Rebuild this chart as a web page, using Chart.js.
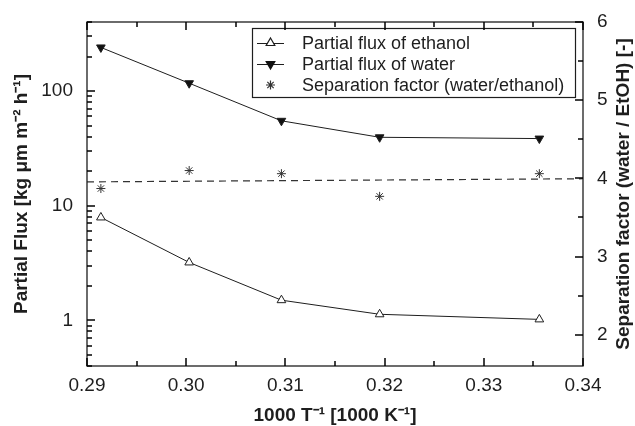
<!DOCTYPE html>
<html>
<head>
<meta charset="utf-8">
<script src="https://cdn.jsdelivr.net/npm/chart.js@4.4.1/dist/chart.umd.min.js"></script>
<style>
  html, body { margin: 0; padding: 0; background: #ffffff; }
  #flux-chart { display: block; }
</style>
</head>
<body>
<canvas id="flux-chart" width="635" height="426"></canvas>
<script>
'use strict';

// Section 1: data
const inverseTemp = [0.2914, 0.3003, 0.3096, 0.3195, 0.3356];
const ethanolFlux = [7.9, 3.2, 1.5, 1.13, 1.02];
const waterFlux = [240, 117, 55, 39.5, 38.5];
const separationFactor = [3.87, 4.10, 4.06, 3.77, 4.06];
const fitInverseTemp = [0.29, 0.34];
const fitSeparation = [3.955, 3.995];

const xTickValues = [0.29, 0.295, 0.30, 0.305, 0.31, 0.315, 0.32, 0.325, 0.33, 0.335, 0.34];
const xTickLabels = ['0.29', '', '0.30', '', '0.31', '', '0.32', '', '0.33', '', '0.34'];
const fluxTickValues = [0.4, 0.5, 0.6, 0.7, 0.8, 0.9, 1, 2, 3, 4, 5, 6, 7, 8, 9,
    10, 20, 30, 40, 50, 60, 70, 80, 90, 100, 200, 300, 400];
const fluxTickLabels = fluxTickValues.map(v => (v === 1 || v === 10 || v === 100) ? String(v) : '');
const sepTickValues = [2, 2.5, 3, 3.5, 4, 4.5, 5, 5.5, 6];
const sepTickLabels = ['2', '', '3', '', '4', '', '5', '', '6'];

const legendLabels = [
    'Partial flux of ethanol',
    'Partial flux of water',
    'Separation factor (water/ethanol)',
];
const xTitle = '1000 T\u207B\u00B9 [1000 K\u207B\u00B9]';
const fluxTitle = 'Partial Flux [kg \u03BCm m\u207B\u00B2 h\u207B\u00B9]';
const sepTitle = 'Separation factor (water / EtOH) [-]';

const ink = '#1e1e1e';
const fontFamily = '"Liberation Sans", Arial, Helvetica, sans-serif';

function toPoints(xs, ys) {
    return xs.map((x, i) => ({ x: x, y: ys[i] }));
}

// Section 2: frame, inner ticks, right title and legend
function drawInnerTicks(ctx, scale, values, labels, side, area) {
    for (let i = 0; i < values.length; i++) {
        let len = labels[i] !== '' ? 8 : 5;
        let p = Math.round(scale.getPixelForValue(values[i]));
        ctx.beginPath();
        if (side === 'bottom') { ctx.moveTo(p, area.bottom); ctx.lineTo(p, area.bottom - len); }
        if (side === 'top') { ctx.moveTo(p, area.top); ctx.lineTo(p, area.top + len); }
        if (side === 'left') { ctx.moveTo(area.left, p); ctx.lineTo(area.left + len, p); }
        if (side === 'right') { ctx.moveTo(area.right, p); ctx.lineTo(area.right - len, p); }
        ctx.stroke();
    }
}

const tickPlugin = {
    id: 'innerTicks',
    afterDraw(chart) {
        const ctx = chart.ctx;
        const area = chart.chartArea;
        ctx.save();
        ctx.setLineDash([]);
        ctx.lineDashOffset = 0;
        ctx.globalAlpha = 1;
        ctx.globalCompositeOperation = 'source-over';
        ctx.strokeStyle = '#000000';
        ctx.lineWidth = 1.5;
        drawInnerTicks(ctx, chart.scales.x, xTickValues, xTickLabels, 'bottom', area);
        drawInnerTicks(ctx, chart.scales.x, xTickValues, xTickLabels, 'top', area);
        drawInnerTicks(ctx, chart.scales.y, fluxTickValues, fluxTickLabels, 'left', area);
        drawInnerTicks(ctx, chart.scales.y2, sepTickValues, sepTickLabels, 'right', area);
        ctx.restore();
    }
};

const figurePlugin = {
    id: 'figureDecor',
    afterDraw(chart) {
        const ctx = chart.ctx;
        const area = chart.chartArea;

        ctx.save();
        ctx.setLineDash([]);
        ctx.strokeStyle = ink;
        ctx.lineWidth = 1.3;
        ctx.strokeRect(area.left, area.top, area.right - area.left, area.bottom - area.top);

        // right axis title reads bottom to top like the left one
        ctx.fillStyle = ink;
        ctx.font = 'bold 19px ' + fontFamily;
        ctx.textAlign = 'center';
        ctx.textBaseline = 'middle';
        ctx.translate(624, (area.top + area.bottom) / 2);
        ctx.rotate(-Math.PI / 2);
        ctx.fillText(sepTitle, 0, 0);
        ctx.restore();

        // legend box inside the plot
        ctx.save();
        ctx.setLineDash([]);
        ctx.strokeStyle = ink;
        ctx.lineWidth = 1.2;
        ctx.strokeRect(252.5, 28.5, 323, 69);
        ctx.font = '18px ' + fontFamily;
        ctx.textAlign = 'left';
        ctx.textBaseline = 'middle';
        const rows = [43, 64, 85];
        const styles = [
            { pointStyle: 'triangle', radius: 5, rotation: 0, borderWidth: 1, backgroundColor: '#ffffff', borderColor: ink, line: true },
            { pointStyle: 'triangle', radius: 5, rotation: 180, borderWidth: 1, backgroundColor: '#111111', borderColor: '#111111', line: true },
            { pointStyle: 'star', radius: 4.5, rotation: 0, borderWidth: 1, backgroundColor: 'rgba(0,0,0,0)', borderColor: '#333333', line: false },
        ];
        for (let i = 0; i < legendLabels.length; i++) {
            let y = rows[i];
            if (styles[i].line) {
                ctx.fillStyle = ink;
                ctx.fillRect(257, y, 27, 1);
            }
            ctx.fillStyle = styles[i].backgroundColor;
            ctx.strokeStyle = styles[i].borderColor;
            Chart.helpers.drawPoint(ctx, styles[i], 270.5, y);
            ctx.fillStyle = ink;
            ctx.fillText(legendLabels[i], 302, y + 1);
        }
        ctx.restore();
    }
};

// Section 3: the chart
const fluxCtx = document.querySelector('#flux-chart');

const fluxData = {
    datasets: [
        {
            label: legendLabels[0],
            data: toPoints(inverseTemp, ethanolFlux),
            yAxisID: 'y',
            borderColor: ink,
            borderWidth: 1,
            backgroundColor: '#ffffff',
            pointStyle: 'triangle',
            pointRadius: 5,
            pointBorderWidth: 1,
            pointBackgroundColor: '#ffffff',
        },
        {
            label: legendLabels[1],
            data: toPoints(inverseTemp, waterFlux),
            yAxisID: 'y',
            borderColor: ink,
            borderWidth: 1,
            backgroundColor: '#111111',
            pointStyle: 'triangle',
            pointRotation: 180,
            pointRadius: 5,
            pointBorderWidth: 1,
            pointBackgroundColor: '#111111',
        },
        {
            label: legendLabels[2],
            data: toPoints(inverseTemp, separationFactor),
            yAxisID: 'y2',
            showLine: false,
            borderColor: '#333333',
            pointStyle: 'star',
            pointRadius: 4.5,
            pointBorderWidth: 1,
        },
        {
            label: 'fit',
            data: toPoints(fitInverseTemp, fitSeparation),
            yAxisID: 'y2',
            borderColor: '#333333',
            borderWidth: 1.2,
            borderDash: [7, 5],
            pointRadius: 0,
        },
    ],
};

const tickFont = { family: fontFamily, size: 19 };
const titleFont = { family: fontFamily, size: 19, weight: 'bold', lineHeight: 1 };

const fluxConfig = {
    type: 'line',
    data: fluxData,
    options: {
        responsive: false,
        animation: false,
        layout: { padding: { top: 22, left: 0, right: 0, bottom: 0 } },
        scales: {
            x: {
                type: 'linear',
                position: 'bottom',
                min: 0.29,
                max: 0.34,
                afterBuildTicks: scale => { scale.ticks = xTickValues.map(v => ({ value: v })); },
                afterFit: scale => { scale.height = 60; },
                grid: { display: false },
                border: { display: false },
                ticks: {
                    autoSkip: false,
                    maxRotation: 0,
                    padding: 0,
                    color: ink,
                    font: tickFont,
                    callback: (value, index) => xTickLabels[index],
                },
                title: {
                    display: true,
                    text: xTitle,
                    color: ink,
                    font: titleFont,
                    padding: { top: 0, bottom: 1 },
                },
            },
            y: {
                type: 'logarithmic',
                position: 'left',
                min: 0.4,
                max: 400,
                afterBuildTicks: scale => { scale.ticks = fluxTickValues.map(v => ({ value: v })); },
                afterFit: scale => { scale.width = 87; },
                grid: { display: false },
                border: { display: false },
                ticks: {
                    autoSkip: false,
                    padding: 6,
                    color: ink,
                    font: tickFont,
                    callback: (value, index) => fluxTickLabels[index],
                },
                title: {
                    display: true,
                    text: fluxTitle,
                    color: ink,
                    font: titleFont,
                    padding: { top: 12, bottom: 0 },
                },
            },
            y2: {
                type: 'linear',
                position: 'right',
                min: 1.6,
                max: 6,
                afterBuildTicks: scale => { scale.ticks = sepTickValues.map(v => ({ value: v })); },
                afterFit: scale => { scale.width = 52; },
                grid: { display: false },
                border: { display: false },
                ticks: {
                    autoSkip: false,
                    padding: 6,
                    color: ink,
                    font: tickFont,
                    callback: (value, index) => sepTickLabels[index],
                },
            },
        },
        plugins: {
            legend: { display: false },
            tooltip: { enabled: false },
        },
    },
    plugins: [figurePlugin, tickPlugin],
};

const fluxChart = new Chart(fluxCtx, fluxConfig);
</script>
</body>
</html>
